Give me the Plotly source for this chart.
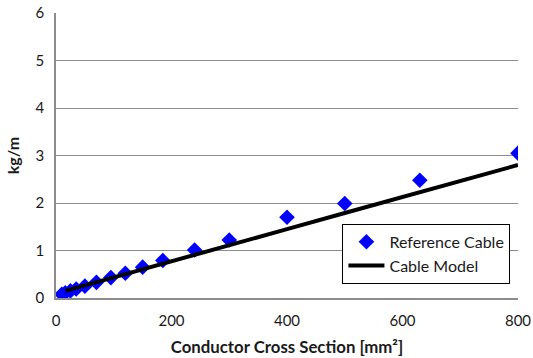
import plotly.graph_objects as go

# Conductor cross sections [mm²] and measured mass per length [kg/m]
cross_section = [10, 16, 25, 35, 50, 70, 95, 120, 150, 185, 240, 300, 400, 500, 630, 800]
reference_mass = [0.08, 0.11, 0.15, 0.19, 0.25, 0.33, 0.43, 0.52, 0.65, 0.79, 1.01, 1.22, 1.70, 1.99, 2.48, 3.05]

# Cable model evaluated on the same cross sections (from 16 mm² upwards)
model_section = [16, 25, 35, 50, 70, 95, 120, 150, 185, 240, 300, 400, 500, 630, 800]
model_mass = [0.15, 0.18, 0.21, 0.27, 0.33, 0.42, 0.50, 0.61, 0.73, 0.91, 1.11, 1.45, 1.79, 2.23, 2.80]

x_ticks = [0, 200, 400, 600, 800]
y_ticks = [0, 1, 2, 3, 4, 5, 6]

FONT = "Lato"
GRID = "#8c8c8c"
TEXT = "#1a1a1a"

fig = go.Figure()
fig.add_trace(go.Scatter(
    x=cross_section, y=reference_mass, mode="markers", name="Reference Cable",
    marker=dict(symbol="diamond", size=12, color="#0000FF"),
))
fig.add_trace(go.Scatter(
    x=model_section, y=model_mass, mode="lines", name="Cable Model",
    line=dict(color="black", width=4),
))

fig.update_layout(
    width=533, height=358,
    margin=dict(l=56, r=15, t=13, b=60),
    paper_bgcolor="white", plot_bgcolor="white",
    font=dict(family=FONT, size=15, color=TEXT),
    showlegend=True,
    legend=dict(
        x=0.62, y=0.26, xanchor="left", yanchor="top",
        bgcolor="white", bordercolor="black", borderwidth=1,
        font=dict(family=FONT, size=16, color=TEXT),
        itemwidth=36, tracegroupgap=0,
    ),
    xaxis=dict(
        range=[0, 800], tickvals=x_ticks, ticks="", showgrid=False,
        showline=True, linecolor=GRID, linewidth=1.5, zeroline=False,
        automargin=False, ticklabelstandoff=8,
        title=dict(text="<b>Conductor Cross Section [mm²]</b>",
                   font=dict(family=FONT, size=16.8, color=TEXT), standoff=13),
        tickfont=dict(family=FONT, size=15, color=TEXT),
    ),
    yaxis=dict(
        range=[0, 6], tickvals=y_ticks, ticks="", showgrid=True, gridcolor=GRID,
        gridwidth=1, showline=True, linecolor=GRID, linewidth=1.5, zeroline=False,
        automargin=False, ticklabelstandoff=7,
        title=dict(text="<b>kg/m</b>",
                   font=dict(family=FONT, size=16, color=TEXT), standoff=12),
        tickfont=dict(family=FONT, size=15, color=TEXT),
    ),
)

fig.write_html("out.html")
